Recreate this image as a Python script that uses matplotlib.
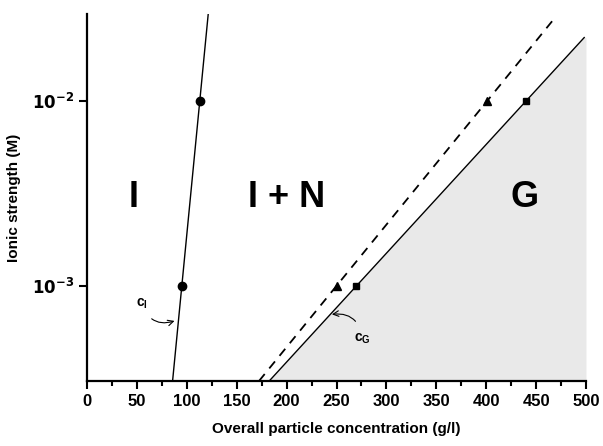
import numpy as np
import matplotlib.pyplot as plt

plt.rcParams['font.family'] = ['Liberation Sans', 'DejaVu Sans']

# measured points (ionic strength in M, concentration in g/l)
ionic = [1e-3, 1e-2]
c_I = [95, 113]          # circles, isotropic boundary
c_G = [270, 440]         # squares, gel boundary
c_dash = [250, 401]      # triangles, dashed boundary

ymin, ymax = 3.06e-4, 2.95e-2
xmin, xmax = 0, 500
# upper ends of the boundary lines
top_I = ymax
top_G = 2.2e-2
top_dash = 2.8e-2


def boundary(xs, y_top):
    # straight line in x vs log(y) through the two measured points
    k, b = np.polyfit(np.log10(ionic), xs, 1)
    yy = np.logspace(np.log10(ymin), np.log10(y_top), 50)
    return k * np.log10(yy) + b, yy


fig = plt.figure(figsize=(6.03, 4.46), dpi=100)
ax = fig.add_axes([0.1443, 0.1457, 0.8275, 0.8229])

xI, yI = boundary(c_I, top_I)
xG, yG = boundary(c_G, top_G)
xD, yD = boundary(c_dash, top_dash)

ax.fill_betweenx(yG, xG, xmax, color='#e9e9e9', lw=0, zorder=0)
ax.plot(xI, yI, color='black', lw=1.0)
ax.plot(xG, yG, color='black', lw=1.0)
ax.plot(xD, yD, color='black', lw=1.3, ls=(0, (5, 4)))

ax.plot(c_I, ionic, 'o', color='black', ms=6)
ax.plot(c_G, ionic, 's', color='black', ms=5)
ax.plot(c_dash, ionic, '^', color='black', ms=6)

ax.set_yscale('log')
ax.set_xlim(xmin, xmax)
ax.set_ylim(ymin, ymax)
ax.set_xticks(np.arange(0, 501, 50))
ax.set_xticks(np.arange(25, 500, 50), minor=True)
ax.set_yticks([1e-3, 1e-2])
ax.set_yticklabels([r'$\mathbf{10^{-3}}$', r'$\mathbf{10^{-2}}$'])
ax.yaxis.set_minor_locator(plt.NullLocator())
ax.tick_params(axis='both', which='major', direction='out', length=6, width=1.5, labelsize=12)
ax.tick_params(axis='x', which='minor', direction='out', length=3.5, width=1.5)
for lab in ax.get_xticklabels():
    lab.set_fontweight('bold')

for s in ['top', 'right']:
    ax.spines[s].set_visible(False)
for s in ['left', 'bottom']:
    ax.spines[s].set_linewidth(1.6)

ax.set_xlabel('Overall particle concentration (g/l)', fontsize=11, fontweight='bold', labelpad=9)
ax.set_ylabel('Ionic strength (M)', fontsize=11, fontweight='bold', labelpad=8)

ax.text(47, 3.0e-3, 'I', fontsize=26, fontweight='bold', ha='center', va='center')
ax.text(200, 3.0e-3, 'I + N', fontsize=26, fontweight='bold', ha='center', va='center')
ax.text(438, 3.0e-3, 'G', fontsize=26, fontweight='bold', ha='center', va='center')

ax.annotate('c$_\\mathregular{I}$', xy=(89, 6.5e-4), xytext=(55, 8.0e-4),
            fontsize=10, fontweight='bold', ha='center', va='center',
            arrowprops=dict(arrowstyle='->', lw=0.8, color='black',
                            connectionstyle='arc3,rad=0.5', shrinkA=5, shrinkB=1))
ax.annotate('c$_\\mathregular{G}$', xy=(244, 7.0e-4), xytext=(276, 5.2e-4),
            fontsize=10, fontweight='bold', ha='center', va='center',
            arrowprops=dict(arrowstyle='->', lw=0.8, color='black',
                            connectionstyle='arc3,rad=0.5', shrinkA=6, shrinkB=1))

fig.savefig('out.png', dpi=100)
